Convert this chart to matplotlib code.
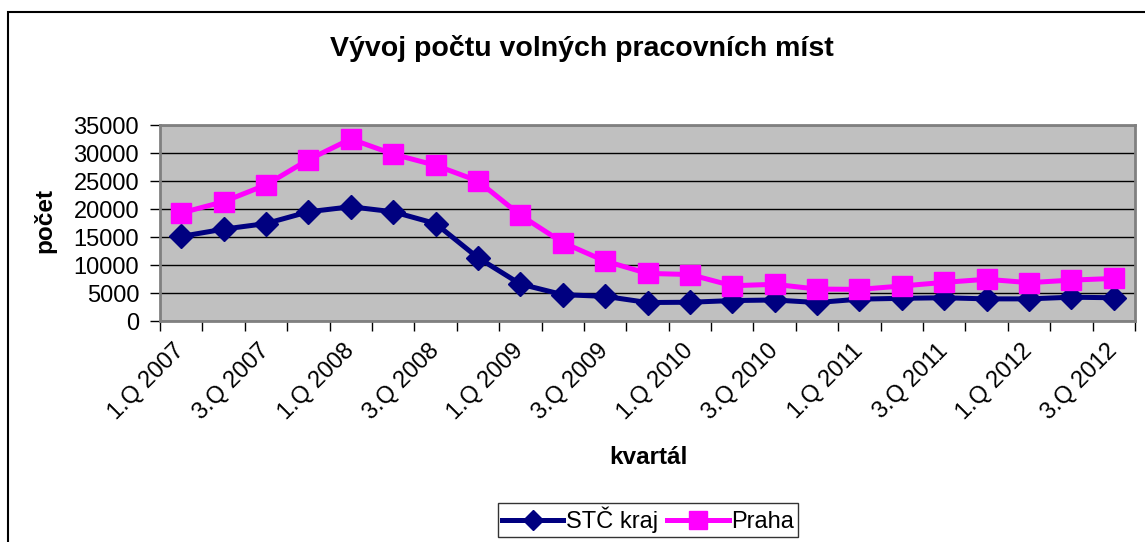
import numpy as np
import matplotlib.pyplot as plt
from matplotlib.patches import Rectangle
from matplotlib.transforms import ScaledTranslation

plt.rcParams['font.family'] = ['Liberation Sans', 'DejaVu Sans']

# kvartály 1.Q 2007 .. 3.Q 2012
kvartaly = [f"{q}.Q {r}" for r in range(2007, 2013) for q in (1, 2, 3, 4)][:23]
stc_kraj = [15100, 16400, 17400, 19500, 20400, 19500, 17400, 11300, 6600, 4700,
            4400, 3300, 3350, 3650, 3750, 3300, 3900, 4050, 4150, 3950,
            3950, 4250, 4150]
praha = [19300, 21300, 24300, 28800, 32500, 29800, 27800, 25000, 18900, 14000,
         10700, 8500, 8300, 6300, 6550, 5700, 5650, 6250, 6900, 7450,
         6850, 7300, 7600]
y_ticks = [0, 5000, 10000, 15000, 20000, 25000, 30000, 35000]

W, H = 1145, 542
fig = plt.figure(figsize=(W / 100, H / 100), dpi=100)

# ramecek grafu (vpravo a dole oriznuty)
fig.patches.append(Rectangle((8 / W, -0.05), 1.2, 1 - 12 / H + 0.05,
                             transform=fig.transFigure, fill=False,
                             edgecolor='black', linewidth=1.5))

ax = fig.add_axes([160 / W, 1 - 321 / H, 975 / W, 196 / H])
ax.set_facecolor('#C0C0C0')
x = np.arange(len(kvartaly))

ax.plot(x, stc_kraj, color='#000080', linewidth=3.6, marker='D',
        markersize=12, markeredgewidth=1, label='STČ kraj', zorder=3)
ax.plot(x, praha, color='#FF00FF', linewidth=3.6, marker='s',
        markersize=14.5, markeredgewidth=1, label='Praha', zorder=3)

ax.set_xlim(-0.5, len(kvartaly) - 0.5)
ax.set_ylim(0, 35000)
ax.set_yticks(y_ticks)
ax.set_yticklabels([str(v) for v in y_ticks], fontsize=17)
ax.yaxis.grid(True, color='black', linewidth=1)
ax.set_axisbelow(True)

ax.set_xticks(x[::2])
ax.set_xticklabels(kvartaly[::2], rotation=45, ha='right', va='center',
                   rotation_mode='anchor', fontsize=17)
posun = ScaledTranslation(-6 / 100, 0, fig.dpi_scale_trans)
for lab in ax.get_xticklabels():
    lab.set_transform(lab.get_transform() + posun)
ax.set_xticks(np.arange(-0.5, len(kvartaly)), minor=True)
ax.tick_params(axis='x', which='major', length=0, pad=19)
ax.tick_params(axis='x', which='minor', length=7, width=1, color='black')
ax.tick_params(axis='y', length=7, width=1, color='black', pad=8)

for s in ax.spines.values():
    s.set_color('#808080')
    s.set_linewidth(2)

fig.text(582 / W, 1 - 48 / H, 'Vývoj počtu volných pracovních míst',
         ha='center', va='center', fontsize=20.5, fontweight='bold')
fig.text(648 / W, 1 - 458 / H, 'kvartál', ha='center', va='center',
         fontsize=17.5, fontweight='bold')
fig.text(45 / W, 1 - 220 / H, 'počet', ha='center', va='center',
         rotation=90, fontsize=17.5, fontweight='bold')

leg = fig.legend(loc='center', bbox_to_anchor=(648 / W, 1 - 520 / H), ncol=2,
                 fontsize=17, frameon=True, fancybox=False, edgecolor='black',
                 handlelength=2.6, handletextpad=0.1, columnspacing=0.4,
                 borderpad=0.15, markerscale=0.85)
leg.get_frame().set_linewidth(1)

fig.savefig('out.png', dpi=100)
